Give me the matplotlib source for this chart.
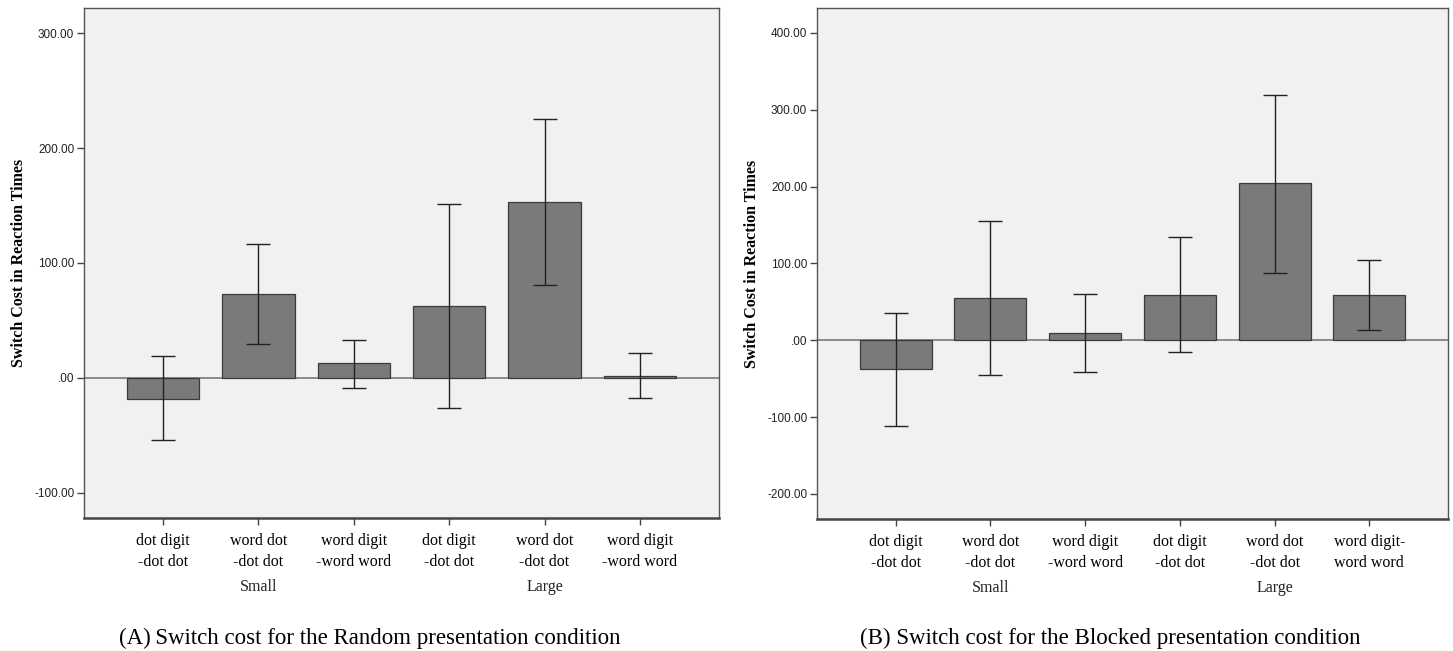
import matplotlib
matplotlib.use("Agg")
import matplotlib.pyplot as plt
import matplotlib.transforms as mtransforms
from matplotlib.ticker import FuncFormatter

# values (switch cost in ms)
labels_random = ["dot digit\n-dot dot", "word dot\n-dot dot", "word digit\n-word word",
                 "dot digit\n-dot dot", "word dot\n-dot dot", "word digit\n-word word"]
labels_blocked = ["dot digit\n-dot dot", "word dot\n-dot dot", "word digit\n-word word",
                  "dot digit\n-dot dot", "word dot\n-dot dot", "word digit-\nword word"]
groups = ["Small", "Large"]

random_mean = [-18.3, 72.9, 12.4, 62.7, 152.8, 1.5]
random_lo = [-54.0, 29.6, -8.6, -26.0, 80.5, -18.0]
random_hi = [19.0, 116.2, 33.0, 151.5, 225.5, 21.3]

blocked_mean = [-37.8, 54.6, 9.5, 59.4, 204.3, 59.4]
blocked_lo = [-111.0, -45.6, -41.3, -15.5, 88.0, 13.8]
blocked_hi = [35.0, 154.8, 60.3, 134.0, 319.3, 105.0]

random_ticks = [-100, 0, 100, 200, 300]
blocked_ticks = [-200, -100, 0, 100, 200, 300, 400]

captions = ["(A)\u2009Switch cost for the Random presentation condition",
            "(B) Switch cost for the Blocked presentation condition"]

SERIF = ["Liberation Serif", "DejaVu Serif"]


def fmt_tick(v, pos):
    s = f"{v:.2f}"
    if s.startswith("0"):
        s = s[1:]
    return s


def draw_panel(ax, means, lo, hi, labels, ticks, ylim):
    x = list(range(len(means)))
    ax.set_facecolor("#f1f1f1")
    ax.axhline(0, color="#7a7a7a", linewidth=1.2, zorder=1)
    ax.bar(x, means, width=0.76, color="#7a7a7a", edgecolor="#3a3a3a",
           linewidth=0.9, zorder=2)
    err = [[m - l for m, l in zip(means, lo)], [h - m for m, h in zip(means, hi)]]
    ax.errorbar(x, means, yerr=err, fmt="none", ecolor="#222222",
                elinewidth=1.0, capsize=8.5, capthick=1.0, zorder=3)

    ax.set_xlim(-0.83, len(means) - 1 + 0.83)
    ax.set_ylim(*ylim)
    ax.set_yticks(ticks)
    ax.yaxis.set_major_formatter(FuncFormatter(fmt_tick))
    ax.set_xticks(x)
    ax.set_xticklabels(labels, family=SERIF, fontsize=11.5, linespacing=1.4)
    for lab in ax.get_yticklabels():
        lab.set_family(["Liberation Sans", "DejaVu Sans"])
        lab.set_fontsize(8.5)
        lab.set_color("#222222")
    ax.tick_params(axis="both", length=5, width=1.0, color="#444444")
    ax.tick_params(axis="x", pad=6)
    ax.tick_params(axis="y", pad=2)
    for side, sp in ax.spines.items():
        sp.set_color("#555555")
        sp.set_linewidth(1.0)
    ax.spines["bottom"].set_linewidth(1.8)
    ax.spines["bottom"].set_color("#444444")

    ax.set_ylabel("Switch Cost in Reaction Times", family=SERIF, fontsize=11.5,
                  fontweight="bold", labelpad=5)

    trans = mtransforms.blended_transform_factory(ax.transData, ax.transAxes)
    for i, g in enumerate(groups):
        ax.text(1 + 3 * i, -0.135, g, transform=trans, ha="center", va="center",
                family=SERIF, fontsize=11.5, color="#222222")


fig = plt.figure(figsize=(14.53, 6.51), dpi=100)
ax1 = fig.add_axes([84 / 1453, 1 - 518 / 651, 635 / 1453, 510 / 651])
ax2 = fig.add_axes([817 / 1453, 1 - 519 / 651, 631 / 1453, 511 / 651])

draw_panel(ax1, random_mean, random_lo, random_hi, labels_random, random_ticks, (-122.2, 322.0))
draw_panel(ax2, blocked_mean, blocked_lo, blocked_hi, labels_blocked, blocked_ticks, (-232.6, 432.5))

fig.text(370 / 1453, 1 - 638 / 651, captions[0], ha="center", va="center",
         family=SERIF, fontsize=16.5)
fig.text(1110 / 1453, 1 - 638 / 651, captions[1], ha="center", va="center",
         family=SERIF, fontsize=16.5)

fig.savefig("out.png", dpi=100)
